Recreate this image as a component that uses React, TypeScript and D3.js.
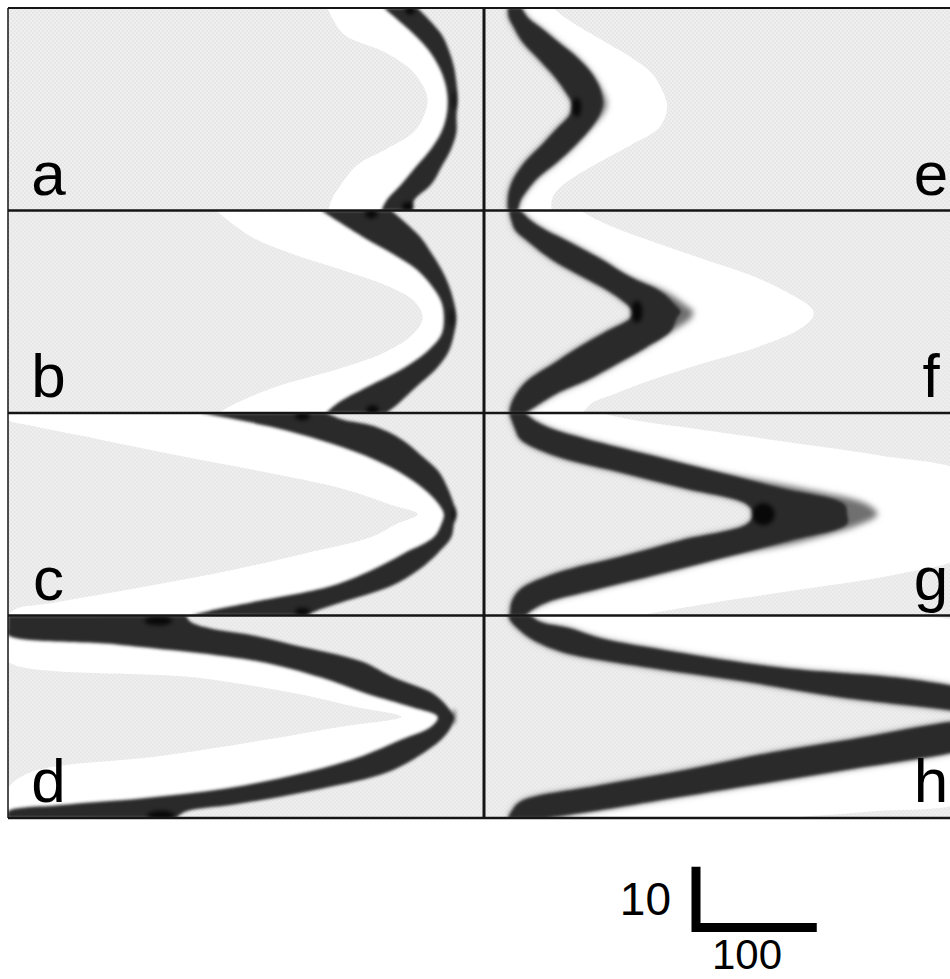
import React from 'react';
import * as d3 from 'd3';

// panel letters, left column top to bottom then right column
const labels = ['a', 'b', 'c', 'd', 'e', 'f', 'g', 'h'];

// y levels (units, 0..31 per panel) and band edges (x units, 0..380 per panel)
const yAB = [0, 4, 6.5, 9, 11.5, 14, 16.5, 19, 21.5, 24, 27, 29.5, 31];
const darkLoA = [300, 324, 336, 344, 349, 351, 350, 346, 338, 327, 314, 302, 298];
const darkHiA = [327, 346, 352, 356, 358, 359, 358, 358, 354, 347, 338, 324, 323];
const whiteA = [255, 268, 298, 319, 330, 335, 332, 324, 303, 279, 266, 258, 256];

const darkLoB = [250, 283, 306, 326, 338, 346, 348, 346, 335, 317, 287, 263, 254];
const darkHiB = [306, 329, 338, 346, 352, 356, 358, 356, 352, 343, 326, 312, 302];
const whiteB = [166, 194, 225, 265, 302, 325, 331, 323, 303, 268, 214, 182, 168];

const yC = [0, 1, 2, 4, 6.5, 9, 11.5, 14, 15.5, 17, 19, 21.5, 24, 26.5, 29, 30, 31];
const darkLoC = [154, 182, 207, 247, 285, 312, 331, 344, 348, 346, 340, 316, 291, 258, 194, 167, 146];
const darkHiC = [254, 267, 292, 314, 330, 344, 351, 356, 358, 356, 354, 343, 328, 306, 266, 250, 238];
const whiteC = [0, 0, 20, 72, 136, 204, 265, 305, 327, 310, 290, 237, 180, 112, 38, 6, 0];

const yD = [0, 1, 2, 3, 4.5, 7, 9.5, 12, 14, 15.5, 17, 19, 21.5, 24, 26.5, 28, 29, 30, 31];
const darkLoD = [0, 0, 0, 0, 90, 199, 250, 287, 322, 343, 338, 314, 283, 238, 174, 106, 42, 0, 0];
const darkHiD = [142, 146, 162, 194, 228, 282, 308, 340, 351, 356, 354, 346, 328, 303, 251, 210, 178, 142, 134];
const whiteD = [0, 0, 0, 0, 0, 0, 150, 232, 278, 314, 267, 207, 122, 18, 0, 0, 0, 0, 0];

const yEF = [0, 1.5, 3, 5, 7.5, 10, 12.5, 14.5, 15.5, 16.5, 18.5, 21, 23.5, 26, 28, 29.5, 31];
const darkLoE = [19, 20, 24, 30, 42, 54, 64, 70, 70, 68, 58, 46, 33, 24, 20, 19, 19];
const darkHiE = [30, 35, 45, 58, 74, 86, 93, 95, 94, 92, 85, 73, 59, 43, 34, 29, 27];
const haloE = [30, 35, 45, 58, 74, 86, 94, 98, 97, 94, 85, 73, 59, 43, 34, 29, 27];
const whiteE = [55, 65, 77, 95, 117, 134, 142, 146, 146, 145, 139, 117, 93, 71, 58, 54, 54];

const darkLoF = [20, 22, 25, 37, 54, 77, 101, 115, 119, 117, 98, 75, 55, 35, 26, 22, 20];
const darkHiF = [29, 37, 49, 70, 94, 115, 142, 153, 157, 154, 149, 129, 106, 82, 58, 45, 33];
const haloF = [29, 37, 49, 70, 94, 115, 146, 161, 167, 165, 150, 129, 106, 82, 58, 45, 33];
const whiteF = [77, 91, 109, 138, 176, 214, 242, 259, 263, 262, 249, 217, 173, 133, 105, 86, 79];

const yG = [0, 1, 2.5, 4, 6.5, 9, 11.5, 14, 15.5, 17, 19.5, 22, 24.5, 27, 29, 30.3, 31];
const darkLoG = [20, 22, 25, 29, 56, 107, 159, 210, 215, 210, 157, 109, 58, 29, 22, 21, 20];
const darkHiG = [33, 39, 55, 82, 134, 186, 237, 288, 290, 290, 245, 194, 143, 90, 50, 37, 33];
const haloG = [33, 39, 55, 82, 134, 186, 253, 306, 314, 301, 257, 194, 143, 90, 50, 37, 33];
const whiteG = [93, 117, 171, 226, 316, 380, 380, 380, 380, 380, 380, 380, 335, 254, 184, 144, 123];

const yH = [0, 1, 2, 3.5, 5.5, 8, 10, 12.5, 14.5, 15.5, 16.5, 19, 21, 23.5, 26, 28.5, 30, 31];
const darkLoH = [19, 22, 27, 37, 61, 133, 205, 285, 373, 405, 365, 293, 229, 165, 93, 29, 22, 19];
const darkHiH = [37, 45, 69, 93, 150, 237, 349, 405, 413, 445, 413, 413, 373, 293, 213, 133, 85, 49];
const whiteH = [317, 380, 380, 380, 380, 380, 380, 380, 380, 380, 380, 380, 380, 380, 380, 380, 309, 237];

// black cores: panel index, x, y, rx, ry (units)
const blobPanel = [0, 0, 0, 1, 1, 1, 2, 2, 2, 3, 3, 3, 4, 5, 6];
const blobX = [321, 319, 356, 290, 291, 354, 235, 235, 356, 120, 122, 356, 74, 122, 223];
const blobY = [0.3, 30.4, 14.1, 0.5, 30.5, 16.4, 0.5, 30.4, 15.5, 0.8, 30.6, 15.5, 15.2, 15.5, 15.5];
const blobRx = [4, 4.5, 1, 5, 5, 1, 6, 6, 1, 11, 11, 1, 3.5, 4.5, 9];
const blobRy = [0.7, 0.7, 1.4, 0.7, 0.7, 1.4, 0.6, 0.6, 1.2, 0.7, 0.7, 1.2, 1.5, 1.7, 1.7];

// scale bar values
const scaleX = 100;
const scaleY = 10;

const panels = [
  { ys: yAB, lo: darkLoA, hi: darkHiA, halo: darkHiA, white: whiteA },
  { ys: yAB, lo: darkLoB, hi: darkHiB, halo: darkHiB, white: whiteB },
  { ys: yC, lo: darkLoC, hi: darkHiC, halo: darkHiC, white: whiteC },
  { ys: yD, lo: darkLoD, hi: darkHiD, halo: darkHiD, white: whiteD },
  { ys: yEF, lo: darkLoE, hi: darkHiE, halo: haloE, white: whiteE },
  { ys: yEF, lo: darkLoF, hi: darkHiF, halo: haloF, white: whiteF },
  { ys: yG, lo: darkLoG, hi: darkHiG, halo: haloG, white: whiteG },
  { ys: yH, lo: darkLoH, hi: darkHiH, halo: darkHiH, white: whiteH },
];

type Row = { y: number; lo: number; hi: number; halo: number; w: number };

export default function App() {
  const width = 950;
  const height = 979;
  const colX = [8, 484];
  const rowY = d3.scaleLinear().domain([0, 4]).range([8, 818]);
  const panelW = colX[1] - colX[0];
  const panelH = rowY(1) - rowY(0);

  const x = d3.scaleLinear().domain([0, 380]).range([0, panelW]);
  const y = d3.scaleLinear().domain([0, 31]).range([0, panelH]);

  const mid = (d: Row) => (d.lo + d.hi) / 2;

  const font = '"Liberation Sans", Arial, Helvetica, sans-serif';

  // scale bar corner
  const bx = 696;
  const by = 927.5;
  const barW = 9;

  return (
    <svg width={width} height={height} style={{ position: 'absolute', left: 0, top: 0, background: '#fff' }}>
      <defs>
        <pattern id="stip" width="4" height="4" patternUnits="userSpaceOnUse">
          <rect width="4" height="4" fill="#efefef" />
          <circle cx="1" cy="1" r="0.75" fill="#dddddd" />
          <circle cx="3" cy="3" r="0.75" fill="#dddddd" />
        </pattern>
        <filter id="soft" filterUnits="userSpaceOnUse" x="-60" y="-60" width="700" height="340">
          <feGaussianBlur stdDeviation="1.8" />
        </filter>
        <filter id="softer" filterUnits="userSpaceOnUse" x="-60" y="-60" width="700" height="340">
          <feGaussianBlur stdDeviation="3" />
        </filter>
        <filter id="core" filterUnits="userSpaceOnUse" x="-60" y="-60" width="700" height="340">
          <feGaussianBlur stdDeviation="2" />
        </filter>
        {panels.map((_, i) => (
          <clipPath id={`clip${i}`} key={i}>
            <rect x={0} y={0} width={i < 4 ? panelW : width - colX[1]} height={panelH} />
          </clipPath>
        ))}
      </defs>

      {panels.map((p, i) => {
        const col = i < 4 ? 0 : 1;
        const row = i % 4;
        const rows: Row[] = p.ys.map((v, k) => ({ y: v, lo: p.lo[k], hi: p.hi[k], halo: p.halo[k], w: p.white[k] }));

        const whiteArea = d3
          .area<Row>()
          .y(d => y(d.y))
          .x0(d => (col === 0 ? x(d.w) : x(mid(d))))
          .x1(d => (col === 0 ? x(mid(d)) : x(d.w)))
          .curve(d3.curveCatmullRom);

        const haloArea = d3
          .area<Row>()
          .y(d => y(d.y))
          .x0(d => x(d.lo))
          .x1(d => x(d.halo))
          .curve(d3.curveCatmullRom);

        const darkArea = d3
          .area<Row>()
          .y(d => y(d.y))
          .x0(d => x(d.lo))
          .x1(d => x(d.hi))
          .curve(d3.curveCatmullRom);

        const blobs = blobPanel.map((_, k) => k).filter(k => blobPanel[k] === i);

        return (
          <g key={i} transform={`translate(${colX[col]},${rowY(row)})`}>
            <g clipPath={`url(#clip${i})`}>
              <rect x={0} y={0} width={width} height={panelH} fill="url(#stip)" />
              <path d={whiteArea(rows) || ''} fill="#ffffff" />
              {col === 1 && <path d={haloArea(rows) || ''} fill="#6f6f6f" filter="url(#softer)" />}
              <path d={darkArea(rows) || ''} fill="#2b2b2b" filter="url(#soft)" />
              {blobs.map(k => (
                <ellipse
                  key={k}
                  cx={x(blobX[k])}
                  cy={y(blobY[k])}
                  rx={x(blobRx[k])}
                  ry={y(blobRy[k])}
                  fill="#000"
                  opacity={0.8}
                  filter="url(#core)"
                />
              ))}
            </g>
            <text
              x={col === 0 ? 40.5 : 447}
              y={panelH - 16}
              textAnchor="middle"
              fontFamily={font}
              fontSize={62}
              fill="#000"
            >
              {labels[i]}
            </text>
          </g>
        );
      })}

      {/* frame */}
      <g stroke="#151515" fill="none">
        {[0, 1, 2, 3, 4].map(r => (
          <line key={r} x1={colX[0]} x2={width} y1={rowY(r)} y2={rowY(r)} strokeWidth={r === 0 ? 2 : 2.5} />
        ))}
        <line x1={colX[0]} x2={colX[0]} y1={rowY(0)} y2={rowY(4)} strokeWidth={1.5} />
        <line x1={colX[1]} x2={colX[1]} y1={rowY(0)} y2={rowY(4)} strokeWidth={3} />
      </g>

      {/* scale bar */}
      <path
        d={`M${bx},${by + barW / 2 - y(scaleY)} L${bx},${by} L${bx - barW / 2 + x(scaleX)},${by}`}
        stroke="#000"
        strokeWidth={barW}
        fill="none"
        strokeLinejoin="miter"
      />
      <text x={671} y={915} textAnchor="end" fontFamily={font} fontSize={46} fill="#000">
        {scaleY}
      </text>
      <text x={747} y={969} textAnchor="middle" fontFamily={font} fontSize={42} fill="#000">
        {scaleX}
      </text>
    </svg>
  );
}
